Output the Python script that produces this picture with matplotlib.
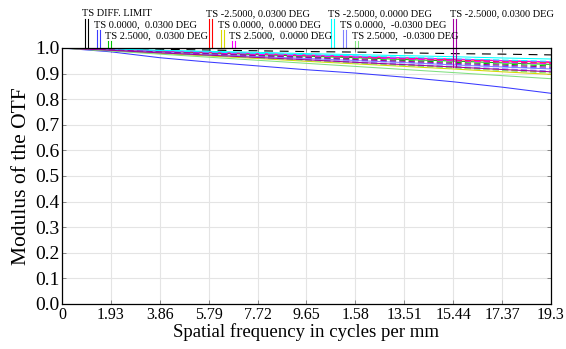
import matplotlib
matplotlib.use("Agg")
import matplotlib.pyplot as plt

plt.rcParams['font.family'] = ['Liberation Serif', 'DejaVu Serif']

# spatial frequency samples (cycles/mm)
freq = [0, 1.93, 3.86, 5.79, 7.72, 9.65, 11.58, 13.51, 15.44, 17.37, 19.3]
tick_labels = ['0', '1.93', '3.86', '5.79', '7.72', '9.65', '1.58',
               '13.51', '15.44', '17.37', '19.3']

# MTF values, (tangential, sagittal) per field
diff_limit = [1.0, .997, .995, .992, .989, .986, .984, .981, .978, .976, .973]
f_0_p03 = ([1.0, .985, .962, .945, .930, .915, .902, .886, .868, .847, .823],
           [1.0, .992, .984, .976, .968, .960, .952, .944, .936, .928, .920])
f_25_p03 = ([1.0, .994, .987, .981, .974, .968, .962, .955, .949, .942, .936],
            [1.0, .993, .986, .979, .972, .965, .958, .951, .944, .937, .930])
f_m25_p03 = ([1.0, .994, .989, .983, .978, .972, .966, .961, .955, .950, .944],
             [1.0, .994, .988, .982, .976, .970, .964, .958, .952, .946, .940])
f_0_0 = ([1.0, .990, .979, .969, .959, .948, .938, .928, .918, .907, .897],
         [1.0, .990, .981, .971, .962, .952, .943, .933, .924, .914, .905])
f_25_0 = ([1.0, .995, .989, .984, .978, .973, .968, .962, .957, .951, .946],
          [1.0, .994, .988, .981, .975, .969, .963, .957, .950, .944, .938])
f_m25_0 = ([1.0, .996, .991, .987, .983, .978, .974, .970, .966, .961, .957],
           [1.0, .995, .990, .984, .979, .974, .969, .964, .958, .953, .948])
f_0_m03 = ([1.0, .992, .984, .975, .967, .959, .951, .943, .934, .926, .918],
           [1.0, .991, .982, .973, .964, .955, .946, .937, .928, .919, .910])
f_25_m03 = ([1.0, .988, .976, .964, .952, .940, .928, .916, .904, .892, .880],
            [1.0, .990, .980, .971, .961, .951, .941, .931, .922, .912, .902])
f_m25_m03 = ([1.0, .991, .981, .972, .963, .954, .944, .935, .926, .916, .907],
             [1.0, .993, .985, .978, .970, .963, .955, .948, .940, .933, .925])

fields = [f_0_p03, f_25_p03, f_m25_p03, f_0_0, f_25_0, f_m25_0,
          f_0_m03, f_25_m03, f_m25_m03]
colors = ['#3a3aff', '#00c000', '#ff0000', '#d8d800', '#ff00ff', '#00ffff',
          '#8080ff', '#80e080', '#a000a0']

labels = ['TS DIFF. LIMIT',
          'TS 0.0000,  0.0300 DEG', 'TS 2.5000,  0.0300 DEG',
          'TS -2.5000, 0.0300 DEG', 'TS 0.0000,  0.0000 DEG',
          'TS 2.5000,  0.0000 DEG', 'TS -2.5000, 0.0000 DEG',
          'TS 0.0000,  -0.0300 DEG', 'TS 2.5000,  -0.0300 DEG',
          'TS -2.5000, 0.0300 DEG']
label_x = [0.79, 1.26, 1.70, 5.68, 6.16, 6.59, 10.50, 10.97, 11.45, 15.31]
label_row = [0, 1, 2, 0, 1, 2, 0, 1, 2, 0]
line_colors = ['black'] + colors

fig = plt.figure(figsize=(5.66, 3.49), dpi=100)
ax = fig.add_axes([0.1095, 0.129, 0.8640, 0.7335])

ax.plot(freq, diff_limit, color='black', lw=0.8, ls=(0, (8, 6)))
for (t, s), c in zip(fields, colors):
    ax.plot(freq, t, color=c, lw=0.75)
    ax.plot(freq, s, color=c, lw=0.75, ls=(0, (6, 3)))

ax.set_xlim(0, 19.3)
ax.set_ylim(0, 1.0)
ax.set_xticks(freq)
ax.set_xticklabels(tick_labels, fontsize=11.5)
ax.set_yticks([i / 10 for i in range(11)])
ax.set_yticklabels(['%.1f' % (i / 10) for i in range(11)], fontsize=14)
ax.tick_params(direction='in', length=3, width=0.6, top=True, right=True,
               color='#777777', pad=2)
ax.grid(True, color='#e4e4e4', lw=0.8)
for sp in ax.spines.values():
    sp.set_linewidth(0.9)

ax.set_xlabel('Spatial frequency in cycles per mm', fontsize=13.5, labelpad=0)
ax.set_ylabel('Modulus of the OTF', fontsize=15.5, labelpad=3)

# Zemax-style legend: text with a pair of coloured marker lines
row_y = [1.134, 1.091, 1.048]
for txt, x, r, c in zip(labels, label_x, label_row, line_colors):
    y = row_y[r]
    ax.text(x, y, txt, fontsize=7.5, ha='left', va='center', clip_on=False)
    bottom = 0.925 if txt == labels[-1] and x > 15 else 1.0
    for dx in (0.12, 0.24):
        ax.plot([x + dx, x + dx], [y - 0.02, bottom], color=c, lw=0.8,
                clip_on=False)

fig.savefig('out.png', dpi=100)
